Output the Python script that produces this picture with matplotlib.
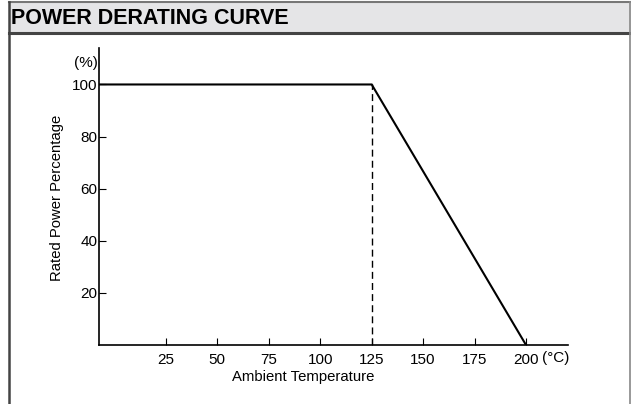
import matplotlib
matplotlib.use("Agg")
import matplotlib.pyplot as plt
from matplotlib.patches import Rectangle
from matplotlib.lines import Line2D

plt.rcParams['font.family'] = ['Liberation Sans', 'DejaVu Sans']

temps = [-7.5, 125, 200]
power = [100, 100, 0]
knee_temp = 125
knee_power = 100
x_ticks = [25, 50, 75, 100, 125, 150, 175, 200]
y_ticks = [20, 40, 60, 80, 100]

W, H = 631, 404
fig = plt.figure(figsize=(W/100, H/100), dpi=100)

def fx(px): return px / W
def fy(py): return 1 - py / H

# frame
fig.patches.append(Rectangle((fx(8.5), fy(33)), fx(630.5) - fx(8.5), fy(2) - fy(33),
                             transform=fig.transFigure, facecolor='#e5e5e7',
                             edgecolor='none', zorder=0))
fig.lines.append(Line2D([fx(8.5), fx(631)], [fy(2), fy(2)], transform=fig.transFigure, color='#777777', lw=1.5))
fig.lines.append(Line2D([fx(8.5), fx(631)], [fy(33), fy(33)], transform=fig.transFigure, color='#444444', lw=2.2))
fig.lines.append(Line2D([fx(8.8), fx(8.8)], [fy(2), 0], transform=fig.transFigure, color='#444444', lw=1.8))
fig.lines.append(Line2D([fx(630.3), fx(630.3)], [fy(2), 0], transform=fig.transFigure, color='#888888', lw=1.2))
fig.text(fx(11), fy(18), 'POWER DERATING CURVE', fontsize=15.5, fontweight='heavy',
         va='center', ha='left', color='black')

ax = fig.add_axes([fx(99), fy(345), fx(568) - fx(99), fy(48) - fy(345)])
ax.plot(temps, power, color='black', lw=1.5, solid_joinstyle='miter')
ax.plot([knee_temp, knee_temp], [0, knee_power], color='black', lw=1.0, ls=(0, (5, 3)))
ax.set_xlim(-7.5, 220.4)
ax.set_ylim(0, 114)
for s in ['top', 'right']:
    ax.spines[s].set_visible(False)
for s in ['left', 'bottom']:
    ax.spines[s].set_linewidth(1.2)
ax.set_xticks(x_ticks)
ax.set_xticklabels([str(t) for t in x_ticks])
ax.set_yticks(y_ticks)
ax.set_yticklabels([str(t) for t in y_ticks])
ax.tick_params(direction='in', length=5, width=0.8, labelsize=11, pad=6)
ax.tick_params(axis='y', pad=1)
fig.text(fx(542), fy(358), '(°C)', ha='left', va='center', fontsize=11)
fig.text(fx(97.5), fy(63), '(%)', ha='right', va='center', fontsize=11)
fig.text(fx(303.5), fy(377), 'Ambient Temperature', ha='center', va='center', fontsize=10.7)
fig.text(fx(57.5), fy(197.5), 'Rated Power Percentage', ha='center', va='center',
         rotation=90, fontsize=10.7)

fig.savefig('out.png', dpi=100)
